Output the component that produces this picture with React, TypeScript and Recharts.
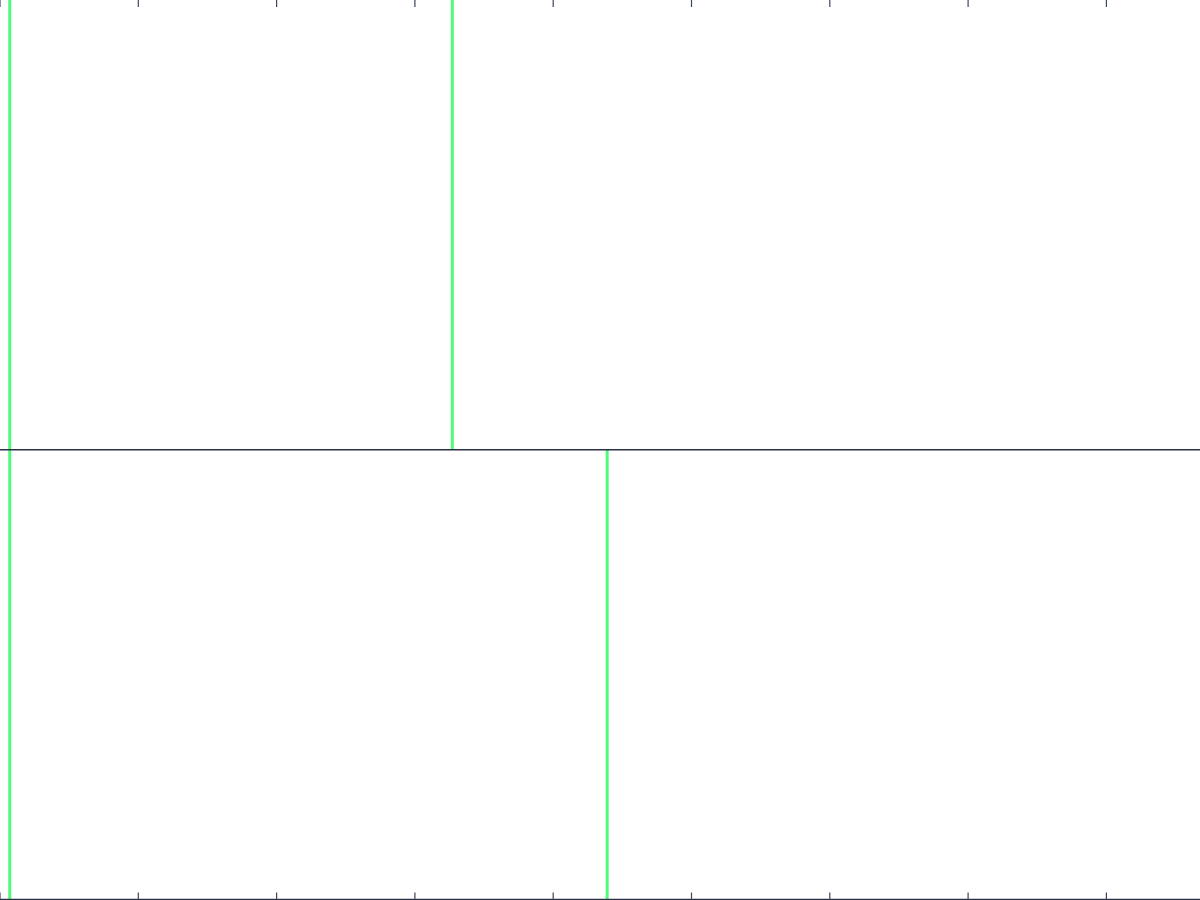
import React from 'react';
import { ComposedChart, Bar, XAxis, YAxis, ReferenceLine } from 'recharts';

// Tick positions along the horizontal scale
const xTicks = [0, 1, 2, 3, 4, 5, 6, 7, 8, 9, 10];
// Positions of the green markers
const markerPositions = [0.07, 3.27, 4.39];
// Vertical extent of each marker: top panel is 0..1, bottom panel is -1..0
const markerLows = [-1, 0, -1];
const markerHighs = [1, 1, 0];

const data = markerPositions.map((x, i) => ({
  x,
  span: [markerLows[i], markerHighs[i]],
}));

const AXIS = '#2a3045';
const TICK = '#3a4560';
const GREEN = '#50fa7b';

export default function App() {
  return (
    <div
      style={{
        position: 'absolute',
        left: 0,
        top: 0,
        width: 1200,
        height: 900,
        overflow: 'hidden',
        background: '#ffffff',
      }}
    >
      <ComposedChart
        width={1383}
        height={899.5}
        data={data}
        margin={{ top: 0, right: 0, bottom: 0, left: 0 }}
      >
        <XAxis
          xAxisId="bottom"
          type="number"
          dataKey="x"
          domain={[0, 10]}
          ticks={xTicks}
          orientation="bottom"
          mirror
          tickFormatter={() => ''}
          tickSize={7}
          axisLine={{ stroke: AXIS, strokeWidth: 1.5 }}
          tickLine={{ stroke: TICK, strokeWidth: 1.2 }}
          allowDataOverflow
        />
        <XAxis
          xAxisId="top"
          type="number"
          dataKey="x"
          domain={[0, 10]}
          ticks={xTicks}
          orientation="top"
          mirror
          tickFormatter={() => ''}
          tickSize={7}
          axisLine={false}
          tickLine={{ stroke: TICK, strokeWidth: 1.2 }}
          allowDataOverflow
        />
        <YAxis hide type="number" domain={[-1, 1]} />
        <Bar
          xAxisId="bottom"
          dataKey="span"
          fill={GREEN}
          barSize={3}
          isAnimationActive={false}
        />
        <ReferenceLine xAxisId="bottom" y={0} stroke={AXIS} strokeWidth={1.5} />
      </ComposedChart>
    </div>
  );
}
